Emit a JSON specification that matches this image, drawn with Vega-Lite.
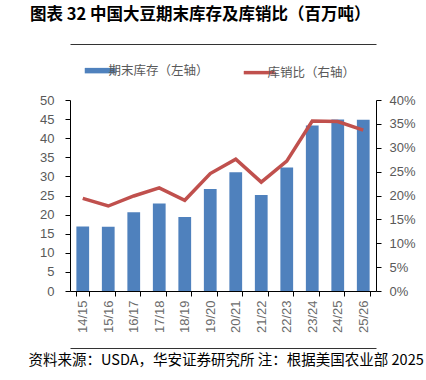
{
  "$schema": "https://vega.github.io/schema/vega-lite/v6.json",
  "width": 306,
  "height": 191,
  "autosize": {"type": "none"},
  "padding": {"left": 70, "top": 100, "right": 50, "bottom": 89},
  "background": "white",
  "title": {
    "text": "图表 32  中国大豆期末库存及库销比（百万吨）",
    "anchor": "start",
    "frame": "group",
    "dx": -40,
    "offset": 21,
    "font": "Noto Sans CJK SC",
    "fontSize": 16.5,
    "fontWeight": "bold",
    "color": "#000000"
  },
  "config": {
    "view": {"stroke": null},
    "axis": {
      "labelFont": "Liberation Sans",
      "labelFontSize": 13,
      "labelColor": "#595959",
      "domainColor": "#000000",
      "tickColor": "#000000",
      "tickSize": 5,
      "grid": false
    }
  },
  "data": {
    "values": [
      {"season": "14/15", "stock": 16.9, "ratio": 0.194},
      {"season": "15/16", "stock": 16.8, "ratio": 0.178},
      {"season": "16/17", "stock": 20.6, "ratio": 0.199},
      {"season": "17/18", "stock": 22.9, "ratio": 0.216},
      {"season": "18/19", "stock": 19.4, "ratio": 0.190},
      {"season": "19/20", "stock": 26.7, "ratio": 0.246},
      {"season": "20/21", "stock": 31.1, "ratio": 0.276},
      {"season": "21/22", "stock": 25.1, "ratio": 0.228},
      {"season": "22/23", "stock": 32.3, "ratio": 0.272},
      {"season": "23/24", "stock": 43.3, "ratio": 0.356},
      {"season": "24/25", "stock": 44.9, "ratio": 0.355},
      {"season": "25/26", "stock": 44.8, "ratio": 0.337}
    ]
  },
  "resolve": {"scale": {"y": "independent"}, "axis": {"x": "independent"}},
  "layer": [
    {
      "mark": {"type": "bar", "color": "#4F81BD"},
      "encoding": {
        "x": {
          "field": "season",
          "type": "nominal",
          "sort": null,
          "scale": {"paddingInner": 0.5, "paddingOuter": 0.25},
          "axis": {
            "title": null,
            "labelAngle": -90,
            "labelPadding": 4,
            "labelColor": "#6b6b6b",
            "tickBand": "extent",
            "orient": "bottom"
          }
        },
        "y": {
          "field": "stock",
          "type": "quantitative",
          "scale": {"domain": [0, 50], "nice": false},
          "axis": {"title": null, "values": [0, 5, 10, 15, 20, 25, 30, 35, 40, 45, 50], "labelPadding": 11, "orient": "left"}
        },
        "color": {
          "datum": "期末库存（左轴）",
          "type": "nominal",
          "scale": {"domain": ["期末库存（左轴）", "库销比（右轴）"], "range": ["#4F81BD", "#C0504D"]},
          "legend": {
            "orient": "none",
            "legendX": 24,
            "legendY": -36,
            "direction": "horizontal",
            "title": null,
            "symbolType": "stroke",
            "symbolSize": 961,
            "labelFont": "Noto Sans CJK SC",
            "labelFontSize": 12.5,
            "labelColor": "#595959",
            "labelOffset": 2,
            "columnPadding": 27,
            "encode": {
              "symbols": {
                "update": {
                  "stroke": {"signal": "datum.value == '库销比（右轴）' ? '#C0504D' : '#4F81BD'"},
                  "strokeWidth": {"signal": "datum.value == '库销比（右轴）' ? 3.5 : 5.5"},
                  "opacity": {"value": 1}
                }
              }
            }
          }
        }
      }
    },
    {
      "mark": {"type": "line", "color": "#C0504D", "strokeWidth": 3.5},
      "encoding": {
        "x": {
          "field": "season",
          "type": "nominal",
          "sort": null,
          "axis": {
            "orient": "bottom",
            "offset": 57,
            "labels": false,
            "ticks": false,
            "domainColor": "#333333",
            "title": "资料来源：USDA，华安证券研究所  注：根据美国农业部 2025",
            "titleFont": "Noto Sans CJK SC",
            "titleFontSize": 14.5,
            "titleFontWeight": "normal",
            "titleColor": "#000000",
            "titleAnchor": "start",
            "titleAlign": "left",
            "titleX": -42,
            "titleY": 12,
            "titleBaseline": "middle"
          }
        },
        "y": {
          "field": "ratio",
          "type": "quantitative",
          "scale": {"domain": [0, 0.4], "nice": false},
          "axis": {"title": null, "format": ".0%", "values": [0, 0.05, 0.1, 0.15, 0.2, 0.25, 0.3, 0.35, 0.4], "labelPadding": 8, "orient": "right"}
        },
        "color": {"datum": "库销比（右轴）", "type": "nominal"}
      }
    },
    {
      "mark": {"type": "point", "opacity": 0},
      "encoding": {
        "x": {
          "field": "season",
          "type": "nominal",
          "sort": null,
          "axis": {
            "orient": "top",
            "offset": 56,
            "labels": false,
            "ticks": false,
            "title": null,
            "domainColor": "#333333"
          }
        }
      }
    }
  ]
}
